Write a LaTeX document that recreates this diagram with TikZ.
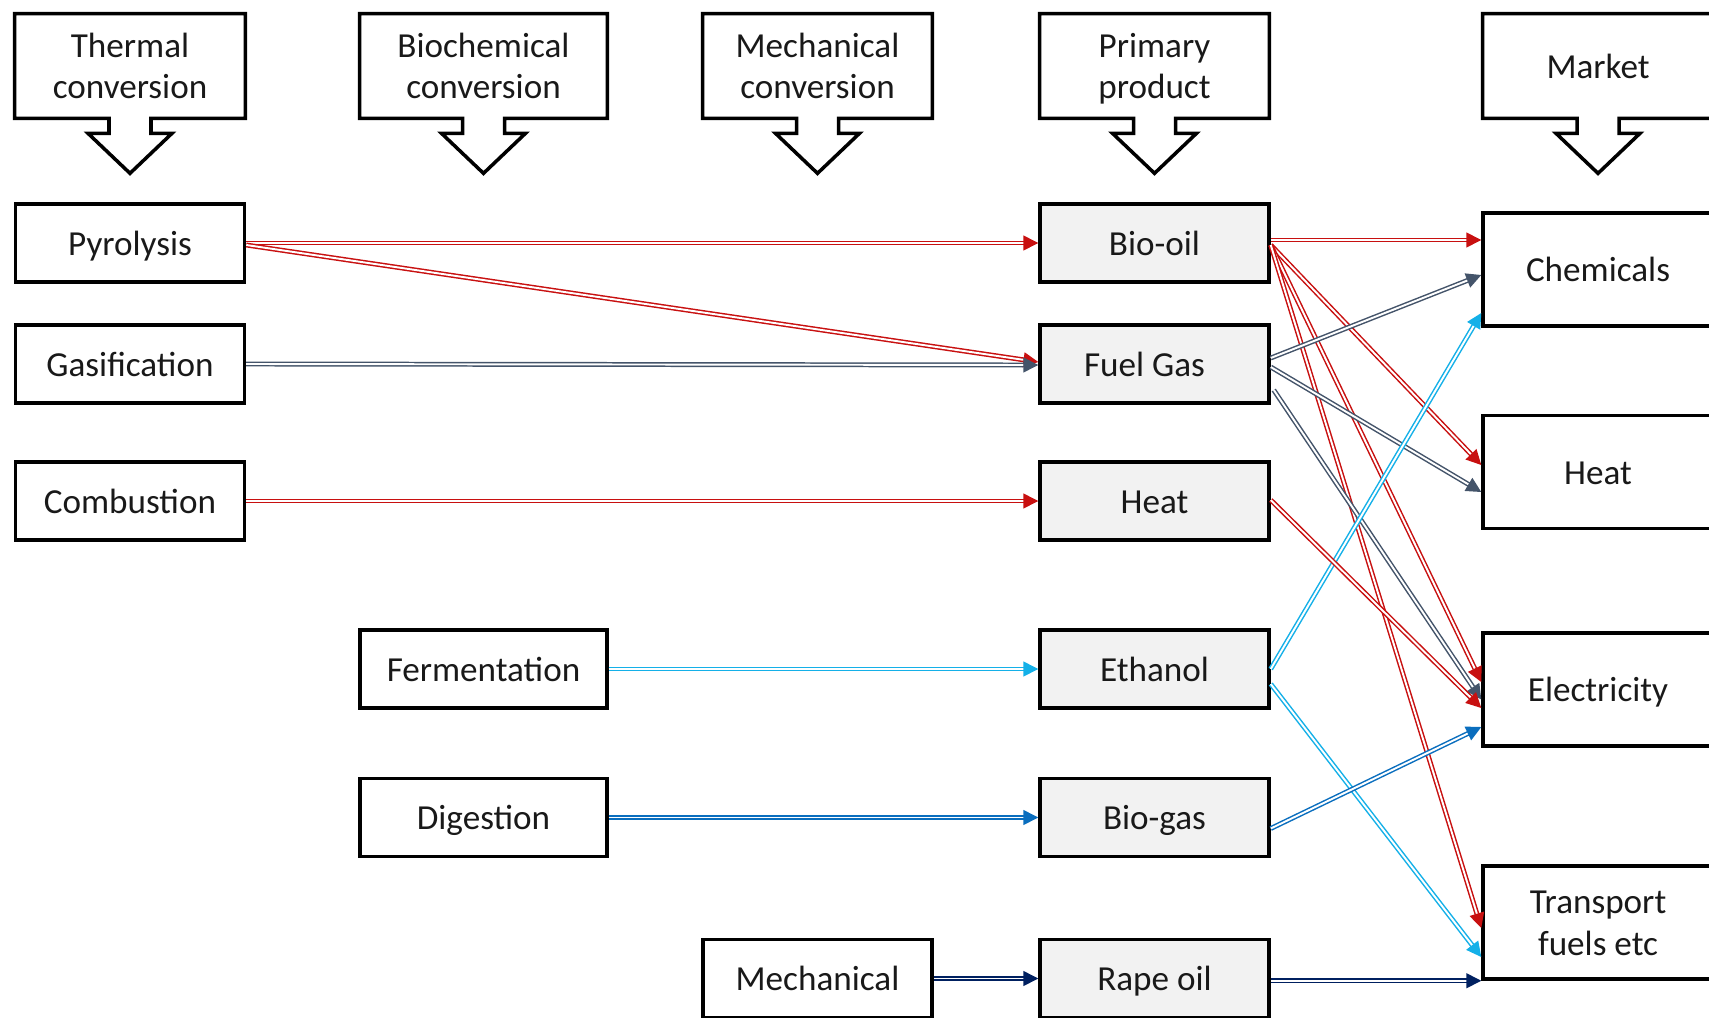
\documentclass[tikz,border=0pt]{standalone}
\usepackage{fontspec}
\setmainfont{Carlito}
\usetikzlibrary{arrows.meta,calc}
\definecolor{cred}{RGB}{200,16,16}
\definecolor{cslate}{RGB}{68,84,106}
\definecolor{clight}{RGB}{20,176,232}
\definecolor{cblue}{RGB}{10,110,190}
\definecolor{cnavy}{RGB}{0,32,96}
\definecolor{cfill}{RGB}{242,242,242}
\definecolor{ctext}{RGB}{25,25,25}
\newcommand\stt{\rule[-0.2em]{0pt}{1.09em}}
\newcommand\calloutshape[1]{\draw[co] (#1.south east) -- (#1.north east) -- (#1.north west) -- (#1.south west) -- ($(#1.south)+(-21,0)$) -- ++(0,15) -- ++(-21,0) -- ++(42,40) -- ++(42,-40) -- ++(-21,0) -- ++(0,-15) -- cycle;}
\begin{document}
\begin{tikzpicture}[x=0.02cm,y=-0.02cm,
 font=\fontsize{20}{23.5}\selectfont,
 bx/.style={draw=black, line width=2pt, inner sep=0pt, text=ctext, minimum width=4.58cm, minimum height=1.56cm, align=center},
 prim/.style={bx, fill=cfill},
 mkt/.style={bx, minimum width=4.6cm, minimum height=2.26cm},
 hdr/.style={inner sep=0pt, text=ctext, minimum height=2.08cm, align=center},
 co/.style={line width=2pt, line join=miter},
 conn/.style={draw=#1, double=white, line width=0.85pt, double distance=1.1pt, -{Triangle[length=8.5pt,width=8.5pt,fill=#1]}},
]
\useasboundingbox (0,0) rectangle (1709,1017);
% headers
\node[hdr, minimum width=4.6cm] (hThermal) at (130,66) {Thermal\stt\\conversion\stt};
\node[hdr, minimum width=4.94cm] (hBio) at (483.5,66) {Biochemical\stt\\conversion\stt};
\node[hdr, minimum width=4.58cm] (hMech) at (817.5,66) {Mechanical\stt\\conversion\stt};
\node[hdr, minimum width=4.58cm] (hPrim) at (1154.5,66) {Primary\stt\\product\stt};
\node[hdr, minimum width=4.6cm] (hMkt) at (1598,66) {Market\stt};
\calloutshape{hThermal}
\calloutshape{hBio}
\calloutshape{hMech}
\calloutshape{hPrim}
\calloutshape{hMkt}
% process boxes
\node[bx] (pyro) at (130,243) {Pyrolysis\stt};
\node[bx] (gasif) at (130,364) {Gasification\stt};
\node[bx] (comb) at (130,501) {Combustion\stt};
\node[bx, minimum width=4.94cm] (ferm) at (483.5,669) {Fermentation\stt};
\node[bx, minimum width=4.94cm] (dig) at (483.5,817.5) {Digestion\stt};
\node[bx] (mech) at (817.5,978.5) {Mechanical\stt};
% primary products
\node[prim] (biooil) at (1154.5,243) {Bio-oil\stt};
\node[prim] (fuel) at (1154.5,364) {Fuel Gas\stt\hspace*{0.4cm}};
\node[prim] (heatp) at (1154.5,501) {Heat\stt};
\node[prim] (eth) at (1154.5,669) {Ethanol\stt};
\node[prim] (biogas) at (1154.5,817.5) {Bio-gas\stt};
\node[prim] (rape) at (1154.5,978.5) {Rape oil\stt};
% market
\node[mkt] (chem) at (1598,269.5) {Chemicals\stt};
\node[mkt] (heatm) at (1598,472) {Heat\stt};
\node[mkt] (elec) at (1598,689.5) {Electricity\stt};
\node[mkt] (trans) at (1598,922.5) {Transport\stt\\fuels etc\stt};
% connectors left
\draw[conn=cred] (pyro.east) -- (biooil.west);
\draw[conn=cred] ($(pyro.east)+(0,2)$) -- ($(fuel.west)+(0,-2)$);
\draw[conn=cslate] (gasif.east) -- ($(fuel.west)+(0,1)$);
\draw[conn=cred] (comb.east) -- (heatp.west);
\draw[conn=clight] (ferm.east) -- (eth.west);
\draw[conn=cblue] (dig.east) -- (biogas.west);
\draw[conn=cnavy] (mech.east) -- (rape.west);
% connectors right
\draw[conn=cred] ($(biooil.east)+(0,-3)$) -- ($(chem.west)+(0,-29.5)$);
\draw[conn=cred] ($(biooil.east)+(0,2)$) -- ($(heatm.west)+(0,-7)$);
\draw[conn=cred] ($(biooil.east)+(0,2)$) -- ($(elec.west)+(0,-7.5)$);
\draw[conn=cred] ($(biooil.east)+(0,2)$) -- ($(trans.west)+(0,5.5)$);
\draw[conn=cslate] ($(fuel.east)+(0,-6)$) -- ($(chem.west)+(0,5.5)$);
\draw[conn=cslate] ($(fuel.east)+(0,3)$) -- ($(heatm.west)+(0,20)$);
\draw[conn=cslate] ($(fuel.east)+(3,26)$) -- ($(elec.west)+(0,10)$);
\draw[conn=clight] (eth.east) -- ($(chem.west)+(0,43.5)$);
\draw[conn=clight] ($(eth.east)+(0,15)$) -- ($(trans.west)+(0,34.5)$);
\draw[conn=cred] ($(heatp.east)+(0,-1)$) -- ($(elec.west)+(0,18.5)$);
\draw[conn=cblue] ($(biogas.east)+(0,11)$) -- ($(elec.west)+(0,37.5)$);
\draw[conn=cnavy] (rape.east |- trans.south west) -- (trans.south west);
\end{tikzpicture}
\end{document}
